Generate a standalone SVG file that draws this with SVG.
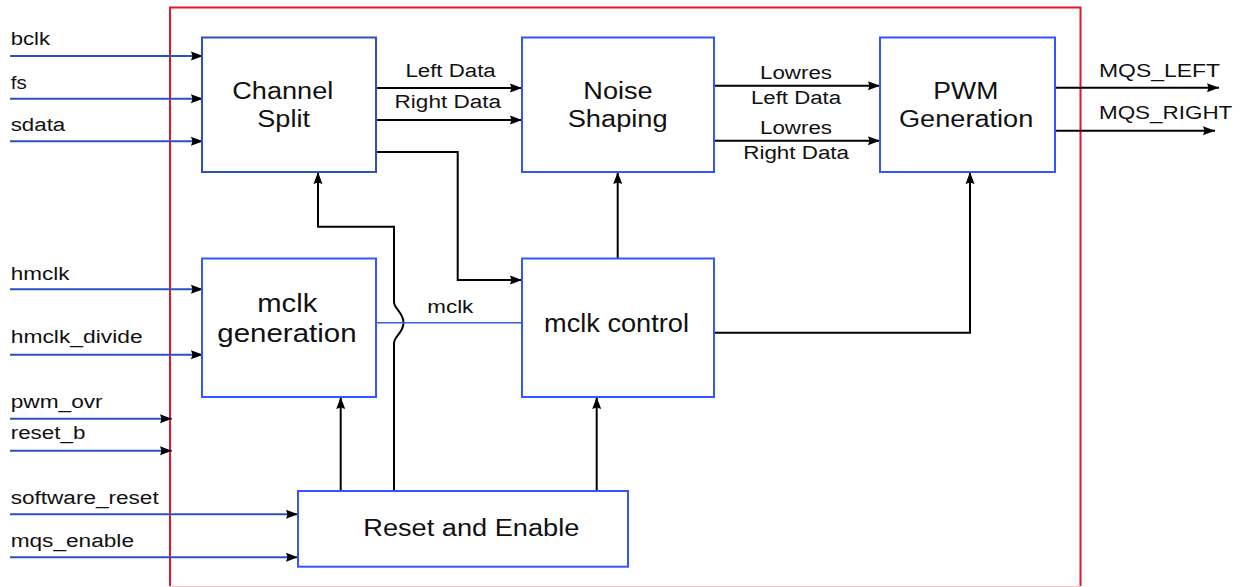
<svg xmlns="http://www.w3.org/2000/svg" width="1241" height="587" viewBox="0 0 1241 587">
  <style>
    text { font-family: "Liberation Sans", Arial, sans-serif; fill: #111; }
    .sm { font-size: 18px; }
    .bg { font-size: 23px; }
    .bg2 { font-size: 25px; }
    .box { fill: #ffffff; stroke: #3355ff; stroke-width: 2; }
    .box2 { fill: #ffffff; stroke: #2d50c4; stroke-width: 2; }
    .in { fill: none; stroke: #2d4fbf; stroke-width: 2; }
    .wire { fill: none; stroke: #000; stroke-width: 2; }
    .mclk { fill: none; stroke: #3a5fd6; stroke-width: 1.5; }
    .frame { fill: none; stroke: #e5132d; stroke-width: 2; }
  </style>
  <defs>
    <marker id="arr" viewBox="0 0 12 10" refX="12" refY="5" markerWidth="12" markerHeight="10" markerUnits="userSpaceOnUse" orient="auto">
      <path d="M0,0.5 L12,5 L0,9.5 L1.5,5 z" fill="#000"/>
    </marker>
  </defs>
  <rect width="1241" height="587" fill="#ffffff"/>

  <g id="frame">
    <path class="frame" d="M170,586 V7.5 H1080.5 V586"/>
    <line x1="170" y1="586.5" x2="1080.5" y2="586.5" stroke="#f6c2ca" stroke-width="1"/>
  </g>

  <g id="connectors">
    <path class="in" d="M10,56 H203" marker-end="url(#arr)"/>
    <path class="in" d="M10,98.7 H203" marker-end="url(#arr)"/>
    <path class="in" d="M10,141.3 H203" marker-end="url(#arr)"/>
    <path class="in" d="M10,289.3 H203" marker-end="url(#arr)"/>
    <path class="in" d="M10,354.7 H203" marker-end="url(#arr)"/>
    <path class="in" d="M10,418.7 H172" marker-end="url(#arr)"/>
    <path class="in" d="M10,450.7 H172" marker-end="url(#arr)"/>
    <path class="in" d="M10,514.3 H298" marker-end="url(#arr)"/>
    <path class="in" d="M10,557.3 H298" marker-end="url(#arr)"/>

    <path class="wire" d="M376,88 H522" marker-end="url(#arr)"/>
    <path class="wire" d="M376,120 H522" marker-end="url(#arr)"/>
    <path class="wire" d="M372,152 H457.7 V280 H522" marker-end="url(#arr)"/>
    <path class="wire" d="M714,85.7 H880" marker-end="url(#arr)"/>
    <path class="wire" d="M714,140.7 H880" marker-end="url(#arr)"/>
    <path class="wire" d="M1055,87.7 H1219" marker-end="url(#arr)"/>
    <path class="wire" d="M1055,130.7 H1215" marker-end="url(#arr)"/>
    <path class="wire" d="M617.7,258 V172" marker-end="url(#arr)"/>
    <path class="wire" d="M714,332.7 H970 V172" marker-end="url(#arr)"/>
    <path class="wire" d="M340.7,491 V397" marker-end="url(#arr)"/>
    <path class="wire" d="M596.7,491 V397" marker-end="url(#arr)"/>
    <path class="wire" d="M394,491 V343.3 C394,336 403.5,333 403.5,322.7 C403.5,312 394,309 394,302 V226.7 H318 V172" marker-end="url(#arr)"/>
    <path class="mclk" d="M376,322.7 H522"/>

    <text class="sm" x="10.7" y="45" textLength="39.3" lengthAdjust="spacingAndGlyphs">bclk</text>
    <text class="sm" x="10.7" y="88.5" textLength="16" lengthAdjust="spacingAndGlyphs">fs</text>
    <text class="sm" x="10.7" y="130.7" textLength="54.6" lengthAdjust="spacingAndGlyphs">sdata</text>
    <text class="sm" x="10.7" y="280" textLength="58.7" lengthAdjust="spacingAndGlyphs">hmclk</text>
    <text class="sm" x="10.7" y="343.3" textLength="132" lengthAdjust="spacingAndGlyphs">hmclk_divide</text>
    <text class="sm" x="10.7" y="407.7" textLength="92" lengthAdjust="spacingAndGlyphs">pwm_ovr</text>
    <text class="sm" x="10.7" y="439.3" textLength="74.7" lengthAdjust="spacingAndGlyphs">reset_b</text>
    <text class="sm" x="10.7" y="504.3" textLength="148" lengthAdjust="spacingAndGlyphs">software_reset</text>
    <text class="sm" x="10.7" y="546.7" textLength="123.3" lengthAdjust="spacingAndGlyphs">mqs_enable</text>

    <text class="sm" x="405.4" y="76.7" textLength="90.3" lengthAdjust="spacingAndGlyphs">Left Data</text>
    <text class="sm" x="394.6" y="108.3" textLength="106.4" lengthAdjust="spacingAndGlyphs">Right Data</text>
    <text class="sm" x="760" y="79.3" textLength="72" lengthAdjust="spacingAndGlyphs">Lowres</text>
    <text class="sm" x="751" y="104.3" textLength="90" lengthAdjust="spacingAndGlyphs">Left Data</text>
    <text class="sm" x="760" y="134" textLength="72" lengthAdjust="spacingAndGlyphs">Lowres</text>
    <text class="sm" x="743.3" y="159.3" textLength="105.7" lengthAdjust="spacingAndGlyphs">Right Data</text>
    <text class="sm" x="427.3" y="313.3" textLength="46" lengthAdjust="spacingAndGlyphs">mclk</text>
    <text class="sm" x="1099" y="76.7" textLength="121" lengthAdjust="spacingAndGlyphs">MQS_LEFT</text>
    <text class="sm" x="1099" y="119.3" textLength="133.3" lengthAdjust="spacingAndGlyphs">MQS_RIGHT</text>
  </g>

  <g id="channel-split">
    <rect class="box2" x="202" y="37.5" width="174" height="134.5"/>
    <text class="bg" x="232.3" y="99" textLength="101" lengthAdjust="spacingAndGlyphs">Channel</text>
    <text class="bg" x="257.3" y="126.7" textLength="52.7" lengthAdjust="spacingAndGlyphs">Split</text>
  </g>

  <g id="noise-shaping">
    <rect class="box" x="522" y="37.5" width="192" height="134.5"/>
    <text class="bg" x="583.3" y="99" textLength="69.4" lengthAdjust="spacingAndGlyphs">Noise</text>
    <text class="bg" x="567.7" y="126.7" textLength="100" lengthAdjust="spacingAndGlyphs">Shaping</text>
  </g>

  <g id="pwm-generation">
    <rect class="box" x="880" y="37.5" width="175" height="134.5"/>
    <text class="bg" x="933.3" y="99" textLength="65" lengthAdjust="spacingAndGlyphs">PWM</text>
    <text class="bg" x="899" y="126.7" textLength="134.3" lengthAdjust="spacingAndGlyphs">Generation</text>
  </g>

  <g id="mclk-generation">
    <rect class="box" x="202" y="258.5" width="174" height="138.5"/>
    <text class="bg2" x="257.3" y="311.7" textLength="60" lengthAdjust="spacingAndGlyphs">mclk</text>
    <text class="bg2" x="217.3" y="342" textLength="139.3" lengthAdjust="spacingAndGlyphs">generation</text>
  </g>

  <g id="mclk-control">
    <rect class="box" x="522" y="258.5" width="192" height="138.5"/>
    <text class="bg2" x="544" y="331.7" textLength="145" lengthAdjust="spacingAndGlyphs">mclk control</text>
  </g>

  <g id="reset-enable">
    <rect class="box" x="298" y="491" width="330" height="75.7"/>
    <text class="bg" x="363.3" y="535.7" textLength="216" lengthAdjust="spacingAndGlyphs">Reset and Enable</text>
  </g>
</svg>
